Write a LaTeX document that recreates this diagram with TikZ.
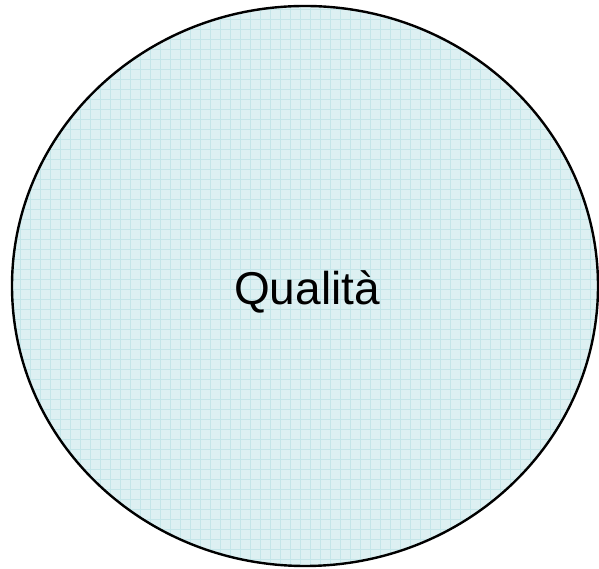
\documentclass[tikz,border=0pt]{standalone}
\usepackage{fontspec}
\setmainfont{Liberation Sans}
\usepackage{xcolor}
\definecolor{blobfill}{HTML}{DDF0F2}
\definecolor{blobgrid}{HTML}{C4E5E8}
\usepackage{tikz}
\usetikzlibrary{positioning,calc}

\begin{document}
\begin{tikzpicture}[x=1pt, y=1pt]
  \useasboundingbox (0,0) rectangle (599,569);
  \fill[blobfill] (305,283) ellipse [x radius=293, y radius=280];
  \begin{scope}
    \clip (305,283) ellipse [x radius=293, y radius=280];
    \draw[blobgrid, line width=0.6pt, step=10] (0,0) grid (599,569);
  \end{scope}
  \draw[black, line width=2.4pt] (305,283) ellipse [x radius=293, y radius=280];
  \node[font=\fontsize{46}{52}\selectfont, anchor=base] (quality) at (307,264) {Qualità};
\end{tikzpicture}
\end{document}
